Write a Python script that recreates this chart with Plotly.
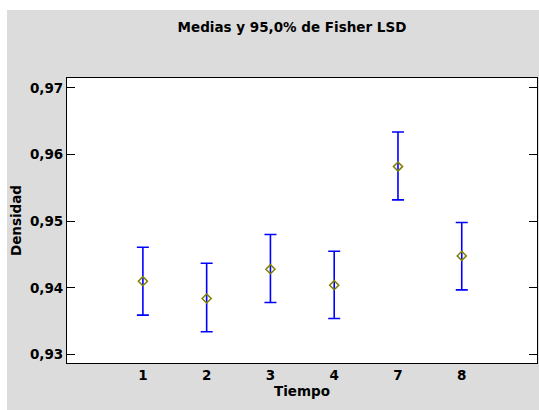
import plotly.graph_objects as go

categories = ["1", "2", "3", "4", "7", "8"]
means = [0.9410, 0.9384, 0.9428, 0.9404, 0.9582, 0.9448]
upper = [0.9461, 0.9437, 0.9480, 0.9455, 0.9634, 0.9498]
lower = [0.9359, 0.9334, 0.9378, 0.9354, 0.9532, 0.9397]
yticks = [0.93, 0.94, 0.95, 0.96, 0.97]

err_plus = [u - m for u, m in zip(upper, means)]
err_minus = [m - l for m, l in zip(means, lower)]

W, H = 539, 410
L, R, T, B = 67, 2, 78, 47
pw, ph = W - L - R, H - T - B

def px_x(p):
    return (p - L) / pw

def px_y(p):
    return (H - B - p) / ph

GRAY = "#dcdcdc"
FONT = "DejaVu Sans"

def bold(size):
    return dict(family=FONT, size=size, color="black", weight="bold")

fig = go.Figure()
fig.add_trace(go.Scatter(
    x=categories, y=means, mode="markers",
    marker=dict(symbol="diamond-open", size=7, color="#808000", line=dict(width=1.5, color="#808000")),
    error_y=dict(type="data", symmetric=False, array=err_plus, arrayminus=err_minus,
                 color="#0000ff", thickness=1.6, width=6),
    showlegend=False,
))

fig.update_layout(
    width=W, height=H,
    margin=dict(l=L, r=R, t=T, b=B),
    paper_bgcolor=GRAY, plot_bgcolor="white",
    separators=",.",
    font=dict(family=FONT, size=12, color="black"),
    title=dict(text="Medias y 95,0% de Fisher LSD", x=292 / W, xanchor="center",
               y=1 - 27 / H, yanchor="middle", yref="container",
               font=bold(13.5)),
    xaxis=dict(type="category", categoryorder="array", categoryarray=categories,
               range=[-1.19, 6.18], showgrid=False, zeroline=False,
               showline=True, linecolor="black", linewidth=1.2, mirror=True,
               ticks="", tickfont=bold(13.5),
               title=dict(text="Tiempo", font=bold(13.5), standoff=4)),
    yaxis=dict(range=[0.92872, 0.9715], tickvals=yticks, tickformat=".2f",
               showgrid=False, zeroline=False,
               showline=True, linecolor="black", linewidth=1.2, mirror="ticks",
               ticks="inside", ticklen=8, tickcolor="black", tickwidth=1.2,
               tickfont=bold(13.5),
               title=dict(text="Densidad", font=bold(13.5), standoff=5)),
    shapes=[
        dict(type="rect", xref="paper", yref="paper", x0=px_x(0), x1=px_x(W + 5),
             y0=px_y(10), y1=px_y(-5), fillcolor="white", line=dict(width=0), layer="below"),
        dict(type="rect", xref="paper", yref="paper", x0=px_x(-5), x1=px_x(7),
             y0=px_y(H + 5), y1=px_y(-5), fillcolor="white", line=dict(width=0), layer="below"),
    ],
)

fig.write_html("out.html")
